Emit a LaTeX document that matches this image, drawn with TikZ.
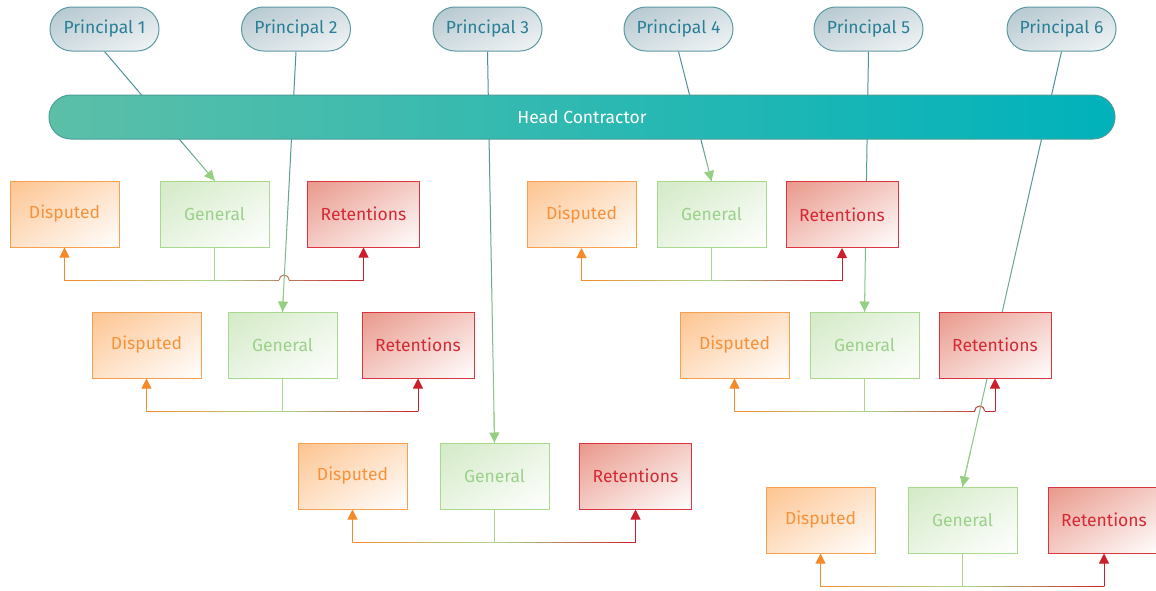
\documentclass[tikz,border=0pt]{standalone}
\usepackage{fontspec}
\setmainfont{Fira Sans}
\usetikzlibrary{arrows.meta,calc,backgrounds,shadings}

\definecolor{pillline}{HTML}{5E9AA3}
\definecolor{pilltext}{HTML}{2A7F96}
\definecolor{pilldark}{HTML}{B2C6CE}
\definecolor{pilllight}{HTML}{F4F6F7}
\definecolor{headleft}{HTML}{5CBFA8}
\definecolor{headright}{HTML}{00B2BB}
\definecolor{headline}{HTML}{4A9E98}
\definecolor{displine}{HTML}{F8A050}
\definecolor{disptext}{HTML}{F7923A}
\definecolor{dispdark}{HTML}{FDC490}
\definecolor{genline}{HTML}{A9D88F}
\definecolor{gentext}{HTML}{9BD18B}
\definecolor{gendark}{HTML}{D3EAC6}
\definecolor{retline}{HTML}{DB3540}
\definecolor{rettext}{HTML}{D42A35}
\definecolor{retdark}{HTML}{E9988A}
\definecolor{tealline}{HTML}{4D929A}
\definecolor{arrgreen}{HTML}{95CF82}
\definecolor{arrorange}{HTML}{F68A2A}
\definecolor{arrred}{HTML}{CC1F2B}

% line from #1 to #2, colour going from #3 to #4
\newcommand{\fadeline}[4]{%
  \foreach \k in {0,...,9}{
    \pgfmathtruncatemacro{\pct}{10*\k+5}
    \draw[#4!\pct!#3, line width=1pt, line cap=round] ($(#1)!\k/10!(#2)$) -- ($(#1)!\k/10+0.1!(#2)$);
  }}

\tikzset{
  boxtip/.style={-{Triangle[length=10pt,width=10pt]}},
  txt/.style={font=\fontsize{17.5}{21}\selectfont},
  principal/.style={txt, draw=pillline, line width=1pt, rounded corners=21.9pt,
    minimum width=109pt, minimum height=44pt, text=pilltext,
    upper left=pilldark, lower right=pilllight,
    upper right=pilldark!50!pilllight, lower left=pilldark!50!pilllight},
  head/.style={txt, draw=headline, line width=1pt, rounded corners=21.9pt,
    minimum height=44pt, text=white, left color=headleft, right color=headright},
  disputed/.style={txt, draw=displine, line width=1pt, minimum width=109pt,
    minimum height=66pt, text=disptext,
    upper left=dispdark, lower right=white,
    upper right=dispdark!50!white, lower left=dispdark!50!white},
  general/.style={txt, draw=genline, line width=1pt, minimum width=109pt,
    minimum height=66pt, text=gentext,
    upper left=gendark, lower right=white,
    upper right=gendark!50!white, lower left=gendark!50!white},
  retentions/.style={txt, draw=retline, line width=1pt, minimum width=112pt,
    minimum height=66pt, text=rettext,
    upper left=retdark, lower right=white,
    upper right=retdark!50!white, lower left=retdark!50!white}
}

\begin{document}
\begin{tikzpicture}[x=1pt, y=-1pt]
  \useasboundingbox (0,0) rectangle (1156,590);

  % principals
  \foreach \n/\x in {1/104.5, 2/296, 3/487.5, 4/678.5, 5/868.5, 6/1061.5}
    \node[principal] (p\n) at (\x,29) {Principal \n};

  \node[head, minimum width=1066pt] (hc) at (582,117) {Head Contractor};

  % accounts of each principal
  \foreach \n/\dx/\gx/\rx/\y in {1/64.5/214.5/363.5/214, 2/146.5/282.5/418/345,
      3/352.5/494.5/635.5/476, 4/581.5/711.5/842/214.5,
      5/734.5/864.5/995/345, 6/820.5/962.5/1104/520}{
    \node[disputed] (d\n) at (\dx,\y) {Disputed};
    \node[general] (g\n) at (\gx,\y) {General};
    \node[retentions] (r\n) at (\rx,\y) {Retentions};
  }

  \begin{scope}[on background layer]
    \fill[white] (0,0) rectangle (1156,590);

    % General -> Disputed / Retentions
    \foreach \n in {1,...,6}{
      \coordinate (j\n) at ($(g\n.south)+(0,32.5)$);
      \coordinate (jd\n) at (d\n.south |- j\n);
      \coordinate (jr\n) at (r\n.south |- j\n);
      \draw[genline, line width=1pt] (g\n.south) -- (j\n);
      \fadeline{j\n}{jd\n}{genline}{arrorange}
      \fadeline{j\n}{jr\n}{genline}{arrred}
      \draw[arrorange, line width=1pt, boxtip] (jd\n) -- (d\n.south);
      \draw[arrred, line width=1pt, boxtip] (jr\n) -- (r\n.south);
    }

    % line hops
    \coordinate (h1) at (intersection of p2.south--g2.north and j1--jr1);
    \coordinate (h5) at (intersection of p6.south--g6.north and j5--jr5);
    \draw[white, line width=3pt] ($(h1)+(-5,0)$) -- ($(h1)+(5,0)$);
    \draw[genline!50!arrred, line width=1pt] ($(h1)+(-5,0)$) arc[start angle=180, end angle=360, radius=5];
    \draw[white, line width=3pt] ($(h5)+(-5,0)$) -- ($(h5)+(5,0)$);
    \draw[genline!15!arrred, line width=1pt] ($(h5)+(-5,0)$) arc[start angle=180, end angle=360, radius=5];

    % Principal -> General, behind the head contractor
    \foreach \n in {1,...,6}{
      \coordinate (x\n) at (intersection of p\n.south--g\n.north and hc.south west--hc.south east);
      \draw[tealline, line width=1pt] (p\n.south) -- (x\n);
      \fadeline{x\n}{g\n.north}{tealline}{arrgreen}
      \draw[arrgreen, line width=1pt, boxtip] ($(x\n)!0.9!(g\n.north)$) -- (g\n.north);
    }
  \end{scope}
\end{tikzpicture}
\end{document}
